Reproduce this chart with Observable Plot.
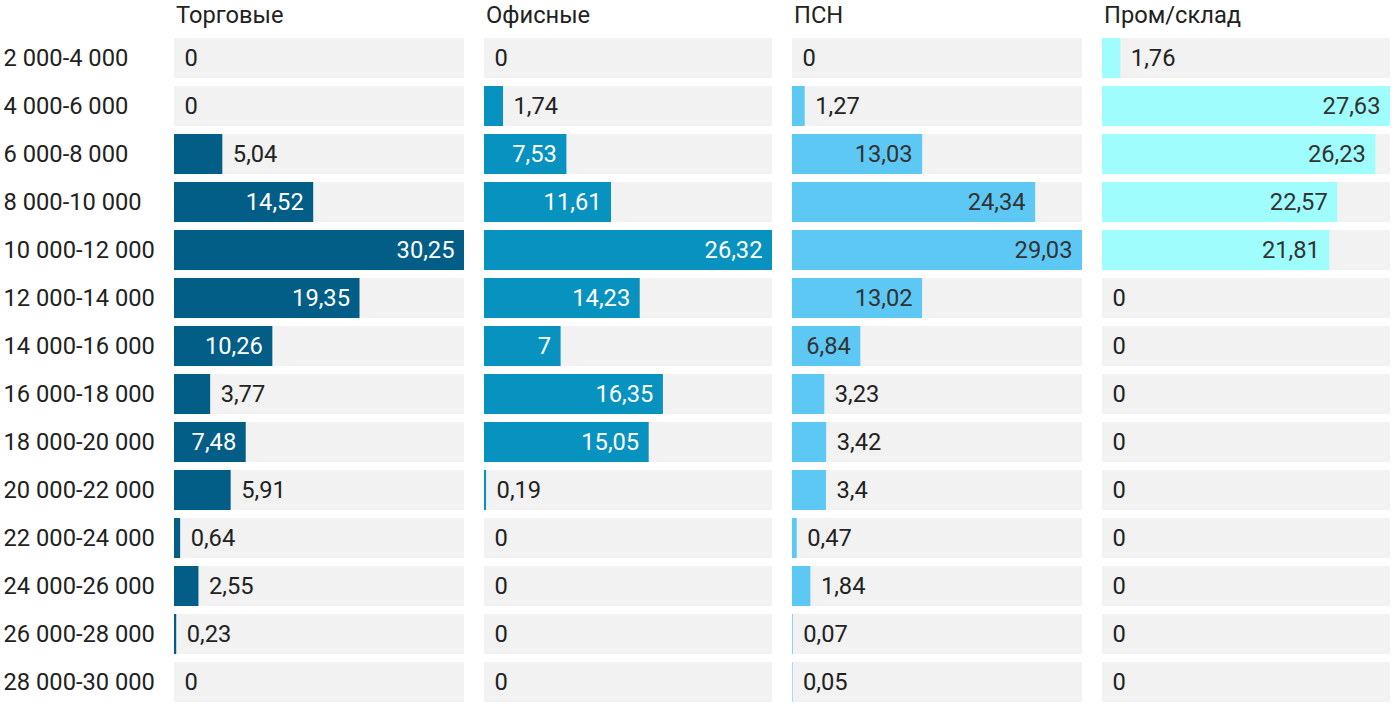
<!DOCTYPE html>
<html>
<head>
<meta charset="utf-8">
<script src="https://cdn.jsdelivr.net/npm/d3@7"></script>
<script src="https://cdn.jsdelivr.net/npm/@observablehq/plot@0.6"></script>
<style>
  html, body { margin: 0; padding: 0; background: #fff; }
  body { font-family: Roboto, "Noto Sans", sans-serif; }
  #wrap { display: flex; gap: 20px; width: 1400px; }
  .col .title { height: 30px; line-height: 30px; font-size: 23.7px; color: #222; white-space: nowrap; }
  svg { display: block; }
</style>
</head>
<body>
<div id="wrap"></div>
<script>
const bins = ["2 000-4 000","4 000-6 000","6 000-8 000","8 000-10 000","10 000-12 000","12 000-14 000","14 000-16 000","16 000-18 000","18 000-20 000","20 000-22 000","22 000-24 000","24 000-26 000","26 000-28 000","28 000-30 000"];
const titles = ["Торговые", "Офисные", "ПСН", "Пром/склад"];
const trade  = [0, 0, 5.04, 14.52, 30.25, 19.35, 10.26, 3.77, 7.48, 5.91, 0.64, 2.55, 0.23, 0];
const office = [0, 1.74, 7.53, 11.61, 26.32, 14.23, 7, 16.35, 15.05, 0.19, 0, 0, 0, 0];
const psn    = [0, 1.27, 13.03, 24.34, 29.03, 13.02, 6.84, 3.23, 3.42, 3.4, 0.47, 1.84, 0.07, 0.05];
const ind    = [1.76, 27.63, 26.23, 22.57, 21.81, 0, 0, 0, 0, 0, 0, 0, 0, 0];
const series = [trade, office, psn, ind];
const colors = ["#025e87", "#0792bf", "#5ec8f5", "#9ffdfd"];
const insideText = ["#ffffff", "#ffffff", "#333333", "#333333"];
const panelWidths = [290, 288, 290, 288];

const fmt = v => String(v).replace(".", ",");
const wrap = document.getElementById("wrap");

series.forEach((vals, i) => {
  const rows = bins.map((b, j) => ({bin: b, value: vals[j]}));
  const max = d3.max(vals);
  const panelW = panelWidths[i];
  const ml = i === 0 ? 174 : 0;
  const inside = d => d.value / max * panelW > 62;
  const marks = [
    Plot.barX(rows, {y: "bin", x1: 0, x2: max, fill: "#f2f2f2", insetTop: 4, insetBottom: 4}),
    Plot.barX(rows, {y: "bin", x1: 0, x2: "value", fill: colors[i], insetTop: 4, insetBottom: 4}),
    Plot.text(rows.filter(inside), {y: "bin", x: "value", text: d => fmt(d.value), textAnchor: "end", dx: -10, fill: insideText[i]}),
    Plot.text(rows.filter(d => !inside(d)), {y: "bin", x: "value", text: d => fmt(d.value), textAnchor: "start", dx: 10, fill: "#222"})
  ];
  if (i === 0) {
    marks.push(Plot.text(bins, {y: d => d, text: d => d, frameAnchor: "left", textAnchor: "start", dx: -171, fill: "#222"}));
  }
  const chart = Plot.plot({
    width: ml + panelW,
    height: 680,
    marginLeft: ml,
    marginRight: 0,
    marginTop: 4,
    marginBottom: 4,
    style: {fontFamily: "Roboto, sans-serif", fontSize: "23.7px", background: "transparent"},
    x: {domain: [0, max], axis: null},
    y: {domain: bins, axis: null, padding: 0, round: false},
    marks
  });
  const col = document.createElement("div");
  col.className = "col";
  const t = document.createElement("div");
  t.className = "title";
  t.style.paddingLeft = (ml + 2) + "px";
  t.textContent = titles[i];
  col.appendChild(t);
  col.appendChild(chart);
  wrap.appendChild(col);
});
</script>
</body>
</html>
